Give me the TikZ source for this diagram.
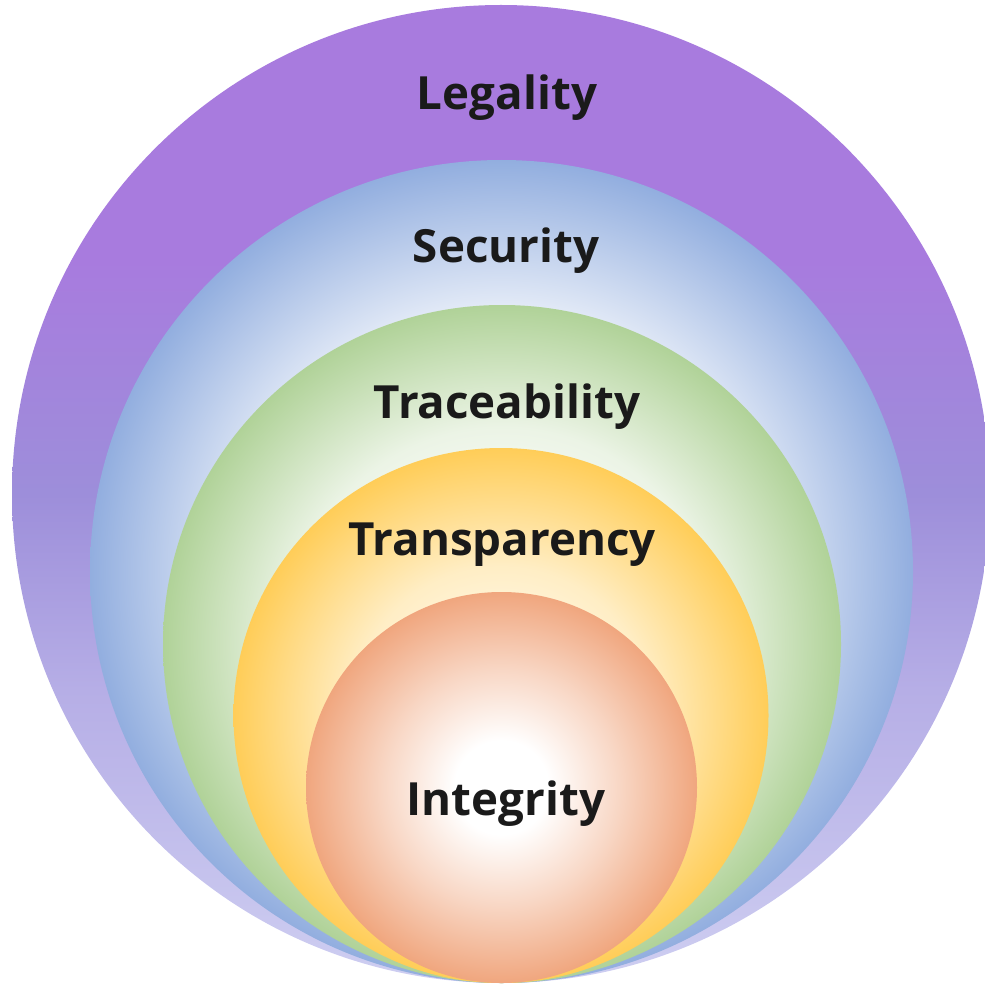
\documentclass[tikz,border=0pt]{standalone}
\usepackage{fontspec}
\setmainfont{Open Sans}
\usetikzlibrary{shadings}

\definecolor{legalitytop}{RGB}{168,123,222}
\definecolor{legalitymid}{RGB}{157,142,218}
\definecolor{legalitylow}{RGB}{182,174,230}
\definecolor{legalitybot}{RGB}{206,206,241}
\definecolor{securityedge}{RGB}{146,174,223}
\definecolor{traceedge}{RGB}{176,210,152}
\definecolor{transpedge}{RGB}{255,205,88}
\definecolor{integedge}{RGB}{240,166,126}
\definecolor{labeltext}{RGB}{26,26,26}

% outer ring fades from top to bottom (circle sits in 25bp..75bp)
\pgfdeclareverticalshading{legalityfade}{100bp}{color(0bp)=(legalitybot); color(25bp)=(legalitybot);
  color(40bp)=(legalitylow); color(50bp)=(legalitymid); color(62bp)=(legalitytop);
  color(100bp)=(legalitytop)}
% inner rings are white in the middle (edge of circle at 25bp)
\pgfdeclareradialshading{securityglow}{\pgfpoint{0bp}{0bp}}{color(0bp)=(white); color(8bp)=(white);
  color(16bp)=(securityedge!25!white); color(25bp)=(securityedge); color(50bp)=(securityedge)}
\pgfdeclareradialshading{traceglow}{\pgfpoint{0bp}{0bp}}{color(0bp)=(white); color(8bp)=(white);
  color(16bp)=(traceedge!25!white); color(25bp)=(traceedge); color(50bp)=(traceedge)}
\pgfdeclareradialshading{transpglow}{\pgfpoint{0bp}{0bp}}{color(0bp)=(white); color(6bp)=(transpedge!12!white);
  color(14bp)=(transpedge!35!white); color(25bp)=(transpedge); color(50bp)=(transpedge)}
\pgfdeclareradialshading{integglow}{\pgfpoint{0bp}{0bp}}{color(0bp)=(white); color(6bp)=(white);
  color(15bp)=(integedge!45!white); color(25bp)=(integedge); color(50bp)=(integedge)}

\begin{document}
\begin{tikzpicture}[x=0.01cm, y=-0.01cm,
    ring/.style = {shading=#1},
    label/.style = {anchor=base, text=labeltext, font=\fontsize{13}{15}\selectfont\bfseries}]
        \useasboundingbox (0,0) rectangle (984,985);
        \path[ring=legalityfade] (501,494) circle (489);
        \path[ring=securityglow] (501.5,571.5) circle (411.5);
        \path[ring=traceglow] (502,644) circle (339);
        \path[ring=transpglow] (501,715.5) circle (267.5);
        \path[ring=integglow] (501.5,787.5) circle (195.5);
        \node[label] (legality) at (507,110) {Legality};
        \node[label] (security) at (506,262) {Security};
        \node[label] (traceability) at (507,418) {Traceability};
        \node[label] (transparency) at (502,555) {Transparency};
        \node[label] (integrity) at (506,815) {Integrity};
    \end{tikzpicture}
\end{document}
